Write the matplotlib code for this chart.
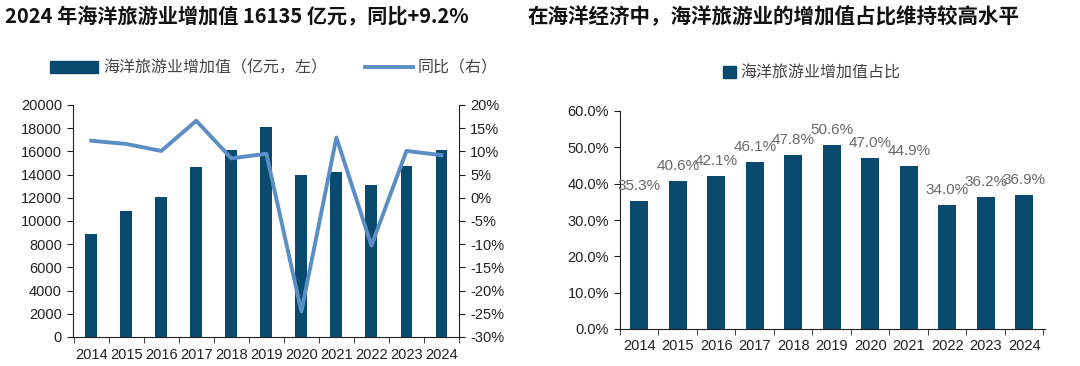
import matplotlib
matplotlib.use("Agg")
import matplotlib.pyplot as plt
from matplotlib.lines import Line2D
from matplotlib.patches import Patch
from matplotlib.ticker import FuncFormatter, MultipleLocator

plt.rcParams['font.family'] = ['Liberation Sans', 'Noto Sans CJK SC', 'DejaVu Sans']

# ---- data ----
years = ["2014", "2015", "2016", "2017", "2018", "2019", "2020", "2021", "2022", "2023", "2024"]
tourism_value = [8882, 10874, 12047, 14636, 16078, 18086, 13924, 14200, 13109, 14735, 16135]  # 亿元
yoy_pct = [12.3, 11.6, 10.1, 16.6, 8.5, 9.5, -24.5, 13.0, -10.3, 10.1, 9.2]
share_pct = [35.3, 40.6, 42.1, 46.1, 47.8, 50.6, 47.0, 44.9, 34.0, 36.2, 36.9]

BAR = "#0B4A6F"
LINE = "#5B8EC4"
TXT = "#222222"
GREY = "#6A6A6A"
CJK = ['Noto Sans CJK SC', 'DejaVu Sans']

W, H = 1080, 366
fig = plt.figure(figsize=(W / 100, H / 100), dpi=100, facecolor="white")


def px_axes(x0, y_top, x1, y_bot):
    return fig.add_axes([x0 / W, 1 - y_bot / H, (x1 - x0) / W, (y_bot - y_top) / H])


def boundary_ticks(ax, n, pad):
    ax.set_xticks(range(n))
    ax.set_xticklabels(years)
    ax.set_xticks([i + 0.5 for i in range(-1, n)], minor=True)
    ax.tick_params(axis="x", which="major", length=0, pad=pad)
    ax.tick_params(axis="x", which="minor", length=4, direction="out", color=TXT)


# ---- titles ----
fig.text(5 / W, 1 - 17 / H, "2024 年海洋旅游业增加值 16135 亿元，同比+9.2%",
         family=CJK, fontsize=14.5, fontweight="bold", color="#111111", va="center", ha="left")
fig.text(528 / W, 1 - 17 / H, "在海洋经济中，海洋旅游业的增加值占比维持较高水平",
         family=CJK, fontsize=14.8, fontweight="bold", color="#111111", va="center", ha="left")

# ---- left chart: bars + yoy line ----
n = len(years)
ax1 = px_axes(73, 105, 459, 337)
ax1.bar(range(n), tourism_value, width=0.34, color=BAR, zorder=2)
ax1.set_ylim(0, 20000)
ax1.set_xlim(-0.52, 10.32)
ax1.yaxis.set_major_locator(MultipleLocator(2000))
boundary_ticks(ax1, n, 8)
ax1.tick_params(axis="y", length=4, direction="out", color=TXT, pad=4)
for s in ["top", "right"]:
    ax1.spines[s].set_visible(False)
for s in ["left", "bottom"]:
    ax1.spines[s].set_color(TXT)
ax1.tick_params(labelsize=10.5, labelcolor=TXT)

ax2 = ax1.twinx()
ax2.plot(range(n), yoy_pct, color=LINE, lw=2.8, zorder=3)
ax2.set_ylim(-30, 20)
ax2.yaxis.set_major_locator(MultipleLocator(5))
ax2.yaxis.set_major_formatter(FuncFormatter(lambda v, p: f"{v:.0f}%"))
ax2.tick_params(axis="y", length=4, direction="out", color=TXT, labelsize=10.5, labelcolor=TXT, pad=4)
for s in ["top", "left", "bottom"]:
    ax2.spines[s].set_visible(False)
ax2.spines["right"].set_color(TXT)

fig.legend(handles=[Patch(color=BAR, label="海洋旅游业增加值（亿元，左）"),
                    Line2D([0], [0], color=LINE, lw=2.8, label="同比（右）")],
           loc="center", bbox_to_anchor=(274 / W, 1 - 68 / H), ncol=2, frameon=False,
           prop={"family": CJK, "size": 11.5}, labelcolor="#444444",
           handlelength=3.0, handleheight=0.8, columnspacing=2.4, handletextpad=0.3)

# ---- right chart: share bars ----
ax3 = px_axes(620, 111, 1045, 329)
bars = ax3.bar(range(n), share_pct, width=0.475, color=BAR, zorder=2)
ax3.set_ylim(0, 60)
ax3.set_xlim(-0.49, 10.54)
ax3.yaxis.set_major_locator(MultipleLocator(10))
ax3.yaxis.set_major_formatter(FuncFormatter(lambda v, p: f"{v:.1f}%"))
boundary_ticks(ax3, n, 7)
ax3.tick_params(axis="y", length=4, direction="out", color=TXT, pad=4)
ax3.tick_params(labelsize=10.5, labelcolor=TXT)
for s in ["top", "right"]:
    ax3.spines[s].set_visible(False)
for s in ["left", "bottom"]:
    ax3.spines[s].set_color(TXT)
for b, v in zip(bars, share_pct):
    ax3.text(b.get_x() + b.get_width() / 2, v + 2.2, f"{v:.1f}%", ha="center", va="bottom",
             fontsize=11, color=GREY)

fig.legend(handles=[Patch(color=BAR, label="海洋旅游业增加值占比")],
           loc="center", bbox_to_anchor=(812 / W, 1 - 73 / H), frameon=False,
           prop={"family": CJK, "size": 11.5}, labelcolor="#444444",
           handlelength=0.8, handleheight=0.8, handletextpad=0.3)

fig.savefig("out.png", dpi=100, facecolor="white")
